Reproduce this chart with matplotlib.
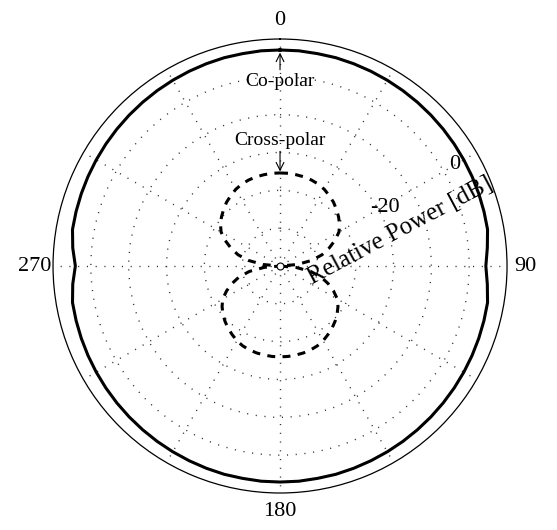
import matplotlib.pyplot as plt
import numpy as np

plt.rcParams["font.family"] = ["Liberation Serif", "DejaVu Serif"]

# pattern sampled every 5 degrees, clockwise from the top
ANGLES_DEG = list(range(0, 360, 5))

CO_POLAR_DB = [
    -2.9, -2.9, -3.0, -3.0, -3.1, -3.2, -3.3, -3.4, -3.5,
    -3.6, -3.7, -3.8, -3.9, -4.0, -4.1, -4.2, -4.3, -5.0,
    -5.6, -5.0, -4.3, -4.2, -4.1, -4.0, -3.9, -3.8, -3.7,
    -3.6, -3.5, -3.4, -3.3, -3.2, -3.1, -3.0, -3.0, -2.9,
    -2.9, -2.9, -3.0, -3.0, -3.1, -3.2, -3.3, -3.4, -3.5,
    -3.6, -3.7, -3.8, -3.9, -4.0, -4.1, -4.2, -4.3, -5.0,
    -5.9, -5.0, -4.3, -4.2, -4.1, -4.0, -3.9, -3.8, -3.7,
    -3.6, -3.5, -3.4, -3.3, -3.2, -3.1, -3.0, -3.0, -2.9,
]

CROSS_POLAR_DB = [
    -35.4, -35.4, -35.5, -35.6, -35.8, -36.1, -36.6, -37.3, -38.0,
    -38.9, -39.8, -40.8, -42.0, -44.0, -46.2, -48.5, -51.5, -55.5,
    -60.0, -55.8, -51.8, -48.8, -46.5, -44.4, -42.5, -41.3, -40.3,
    -39.4, -38.6, -37.9, -37.2, -36.7, -36.4, -36.2, -36.1, -36.0,
    -36.0, -36.0, -36.1, -36.2, -36.4, -36.7, -37.2, -37.9, -38.6,
    -39.4, -40.3, -41.3, -42.5, -44.4, -46.5, -48.8, -51.8, -55.8,
    -60.0, -55.5, -51.5, -48.5, -46.2, -44.0, -42.0, -40.8, -39.8,
    -38.9, -38.0, -37.3, -36.6, -36.1, -35.8, -35.6, -35.5, -35.4,
]

R_MIN, R_MAX = -60, 0
RING_DB = [-50, -40, -30, -20, -10]
SPOKE_DEG = list(range(0, 360, 30))
SPOKE_LABELS = ["0", "", "", "90", "", "", "180", "", "", "270", "", ""]


def closed(angles, values):
    th = np.deg2rad(np.append(angles, angles[0]))
    r = np.append(values, values[0])
    return th, r


fig = plt.figure(figsize=(5.57, 5.30), dpi=100)
ax = fig.add_axes([0.0952, 0.0698, 0.8151, 0.8566], projection="polar")
ax.set_theta_zero_location("N")
ax.set_theta_direction(-1)
ax.set_rlim(R_MIN, R_MAX)

ax.set_rgrids(RING_DB, labels=[""] * len(RING_DB))
ax.set_thetagrids(SPOKE_DEG, labels=SPOKE_LABELS)
ax.grid(True, color="0.2", linewidth=1.0, linestyle=(0, (0.8, 5.5)))
ax.tick_params(axis="x", pad=6, length=0, labelsize=16)
ax.spines["polar"].set_linewidth(0.9)

th, r = closed(ANGLES_DEG, CO_POLAR_DB)
ax.plot(th, r, color="black", linewidth=2.2)

th, r = closed(ANGLES_DEG, CROSS_POLAR_DB)
ax.plot(th, r, color="black", linewidth=2.2, linestyle=(0, (2.6, 2.4)))

ax.plot([0], [R_MIN], marker="o", markersize=5, markerfacecolor="white",
        markeredgecolor="black", markeredgewidth=0.8, clip_on=False)

arrow = dict(arrowstyle="->", color="black", linewidth=0.8,
             shrinkA=0, shrinkB=0)
ax.annotate("Co-polar", xy=(0, -3.6), xytext=(0, -11.1),
            ha="center", va="center", fontsize=14, arrowprops=arrow)
ax.annotate("Cross-polar", xy=(0, -35.0), xytext=(0, -26.7),
            ha="center", va="center", fontsize=14, arrowprops=arrow)

ax.text(np.deg2rad(60), -6.6, "0", ha="center", va="center", fontsize=16)
ax.text(np.deg2rad(60.7), -28.2, "-20", ha="center", va="center", fontsize=16)
ax.text(np.deg2rad(73.7), -26.9, "Relative Power [dB]", ha="center", va="center",
        rotation=28, rotation_mode="anchor", fontsize=18)

fig.savefig("out.png", dpi=100)
